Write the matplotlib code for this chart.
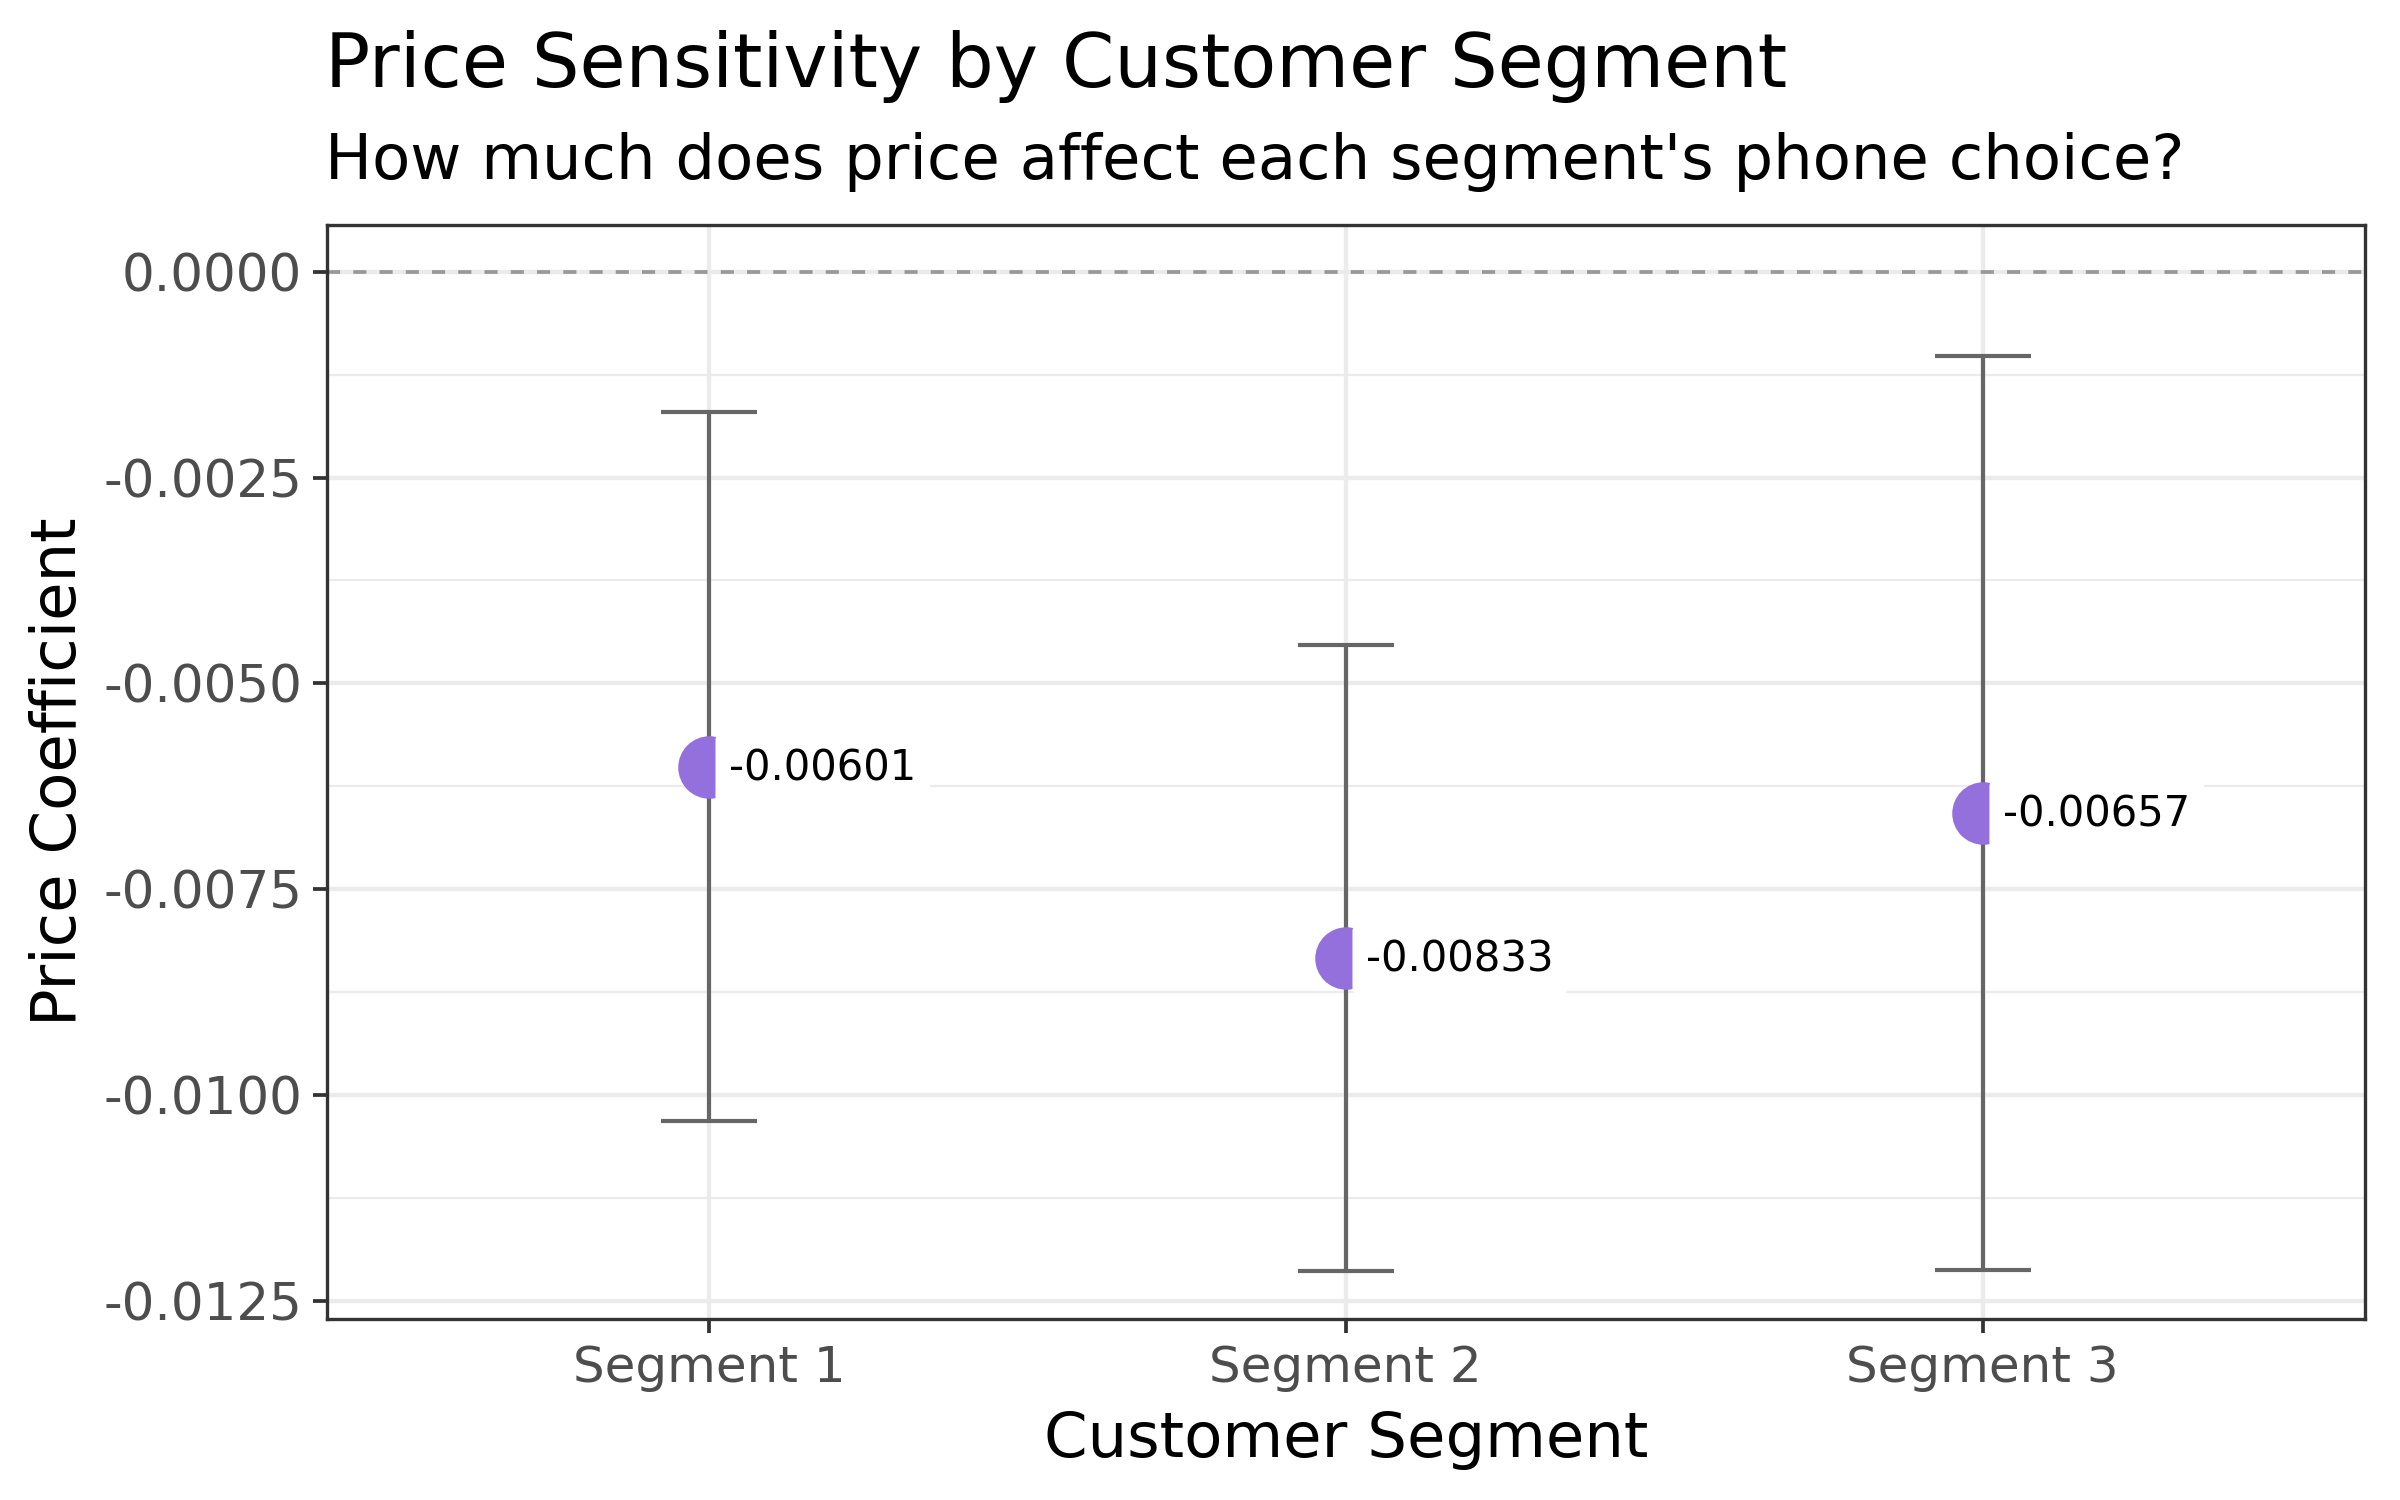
import matplotlib
matplotlib.use("Agg")
import matplotlib.pyplot as plt
import numpy as np
from matplotlib.ticker import FixedLocator, FuncFormatter

plt.rcParams['font.family'] = ['DejaVu Sans']
plt.rcParams['axes.unicode_minus'] = False

segments = ["Segment 1", "Segment 2", "Segment 3"]
estimates = [-0.00601, -0.00833, -0.00657]
upper = [-0.00171, -0.00453, -0.00102]
lower = [-0.01031, -0.01213, -0.01212]
labels = ["-0.00601", "-0.00833", "-0.00657"]
yticks = [0.0, -0.0025, -0.0050, -0.0075, -0.0100, -0.0125]

fig = plt.figure(figsize=(8, 5), dpi=300)
ax = fig.add_axes([0.1361, 0.1205, 0.9854 - 0.1361, 0.85 - 0.1205])

x = np.arange(1, len(segments) + 1)

# grid
for yv in yticks:
    ax.axhline(yv, color="#EBEBEB", lw=1.05, zorder=0)
minor = [(yticks[i] + yticks[i + 1]) / 2 for i in range(len(yticks) - 1)]
for yv in minor:
    ax.axhline(yv, color="#EBEBEB", lw=0.55, zorder=0)
for xv in x:
    ax.axvline(xv, color="#EBEBEB", lw=1.05, zorder=0)

# zero line
ax.axhline(0, color="#999999", lw=0.9, linestyle=(0, (3.5, 3.5)), zorder=1)

# error bars
for xi, lo, hi in zip(x, lower, upper):
    ax.plot([xi, xi], [lo, hi], color="#666666", lw=1.0, zorder=2, solid_capstyle="butt")
    ax.plot([xi - 0.075, xi + 0.075], [lo, lo], color="#666666", lw=1.0, zorder=2, solid_capstyle="butt")
    ax.plot([xi - 0.075, xi + 0.075], [hi, hi], color="#666666", lw=1.0, zorder=2, solid_capstyle="butt")

# points
ax.plot(x, estimates, "o", color="#9370DB", markersize=15, markeredgewidth=0, zorder=3)

# labels
for xi, yi, lab in zip(x, estimates, labels):
    ax.annotate(lab, xy=(xi, yi), xytext=(4.9, -0.5), textcoords="offset points",
                ha="left", va="center", fontsize=10, color="black", zorder=4,
                bbox=dict(boxstyle="round,pad=0.33,rounding_size=0.15",
                          facecolor="white", edgecolor="none"))

ax.set_xlim(0.4, 3.6)
ax.set_ylim(-0.012722, 0.000567)

ax.set_xticks(x)
ax.set_xticklabels(segments)
ax.yaxis.set_major_locator(FixedLocator(yticks))
ax.yaxis.set_major_formatter(FuncFormatter(lambda v, p: f"{v:.4f}" if abs(v) > 1e-12 else "0.0000"))

ax.tick_params(axis="both", which="major", length=3.4, width=0.9, color="#333333",
               labelcolor="#4D4D4D", pad=2.5)
ax.tick_params(axis="x", labelsize=12)
ax.tick_params(axis="y", labelsize=12.4)

for sp in ax.spines.values():
    sp.set_color("#333333")
    sp.set_linewidth(0.8)
    sp.set_zorder(5)

fig.text(0.0247, (0.1205 + 0.85) / 2, "Price Coefficient", rotation=90,
         ha="center", va="center", fontsize=15, color="black")
fig.text((0.1361 + 0.9854) / 2, 0.029, "Customer Segment", ha="center",
         va="baseline", fontsize=15, color="black")

fig.text(0.1355, 0.942, "Price Sensitivity by Customer Segment", ha="left",
         va="baseline", fontsize=18, color="black")
fig.text(0.1355, 0.8807, "How much does price affect each segment's phone choice?",
         ha="left", va="baseline", fontsize=15, color="black")

fig.savefig("out.png", dpi=300, facecolor="white")
